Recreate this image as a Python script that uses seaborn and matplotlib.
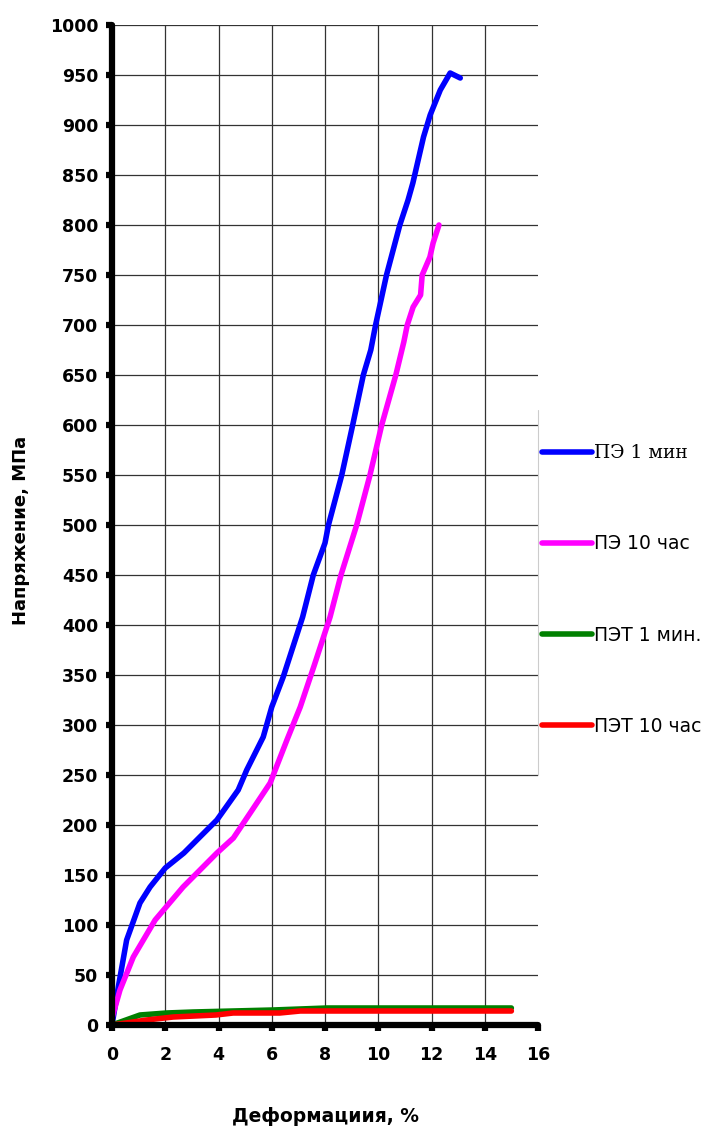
import numpy as np
import pandas as pd
import matplotlib
matplotlib.use("Agg")
import matplotlib.pyplot as plt
import seaborn as sns
from matplotlib.lines import Line2D

# Data
pe1_x = [0, 0.25, 0.55, 1.05, 1.43, 2.0, 2.7, 3.3, 3.94, 4.74, 5.06, 5.68, 6.0, 6.43, 7.16, 7.56, 8.0, 8.13, 8.63, 9.04, 9.44, 9.72, 9.9, 10.31, 10.81, 11.12, 11.3, 11.7, 11.95, 12.33, 12.7, 13.08]
pe1_y = [0, 40, 85, 122, 138, 157, 172, 188, 205, 235, 255, 288, 318, 348, 408, 450, 482, 500, 550, 600, 650, 675, 700, 750, 800, 825, 842, 888, 910, 935, 952, 947]

pe10_x = [0, 0.3, 0.8, 1.62, 2.67, 3.94, 4.56, 5.19, 5.94, 6.57, 7.07, 7.6, 8.19, 8.6, 9.19, 9.69, 10.13, 10.66, 10.96, 11.09, 11.31, 11.59, 11.65, 11.94, 12.06, 12.28]
pe10_y = [7, 35, 68, 105, 138, 172, 187, 212, 242, 285, 318, 360, 408, 450, 500, 550, 600, 650, 683, 700, 718, 730, 750, 768, 782, 800]

pet1_x = [0, 1.05, 2.05, 3.05, 6.05, 8.08, 10, 12, 15]
pet1_y = [0, 10, 12, 13, 15, 17, 17, 17, 17]

pet10_x = [0, 1.3, 2.3, 3.9, 4.55, 6.3, 7.07, 10, 12, 15]
pet10_y = [0, 5, 8, 10, 12, 12, 14, 14, 14, 14]

labels = ["ПЭ 1 мин", "ПЭ 10 час", "ПЭТ 1 мин.", "ПЭТ 10 час"]
colors = ["#0000FF", "#FF00FF", "#008000", "#FF0000"]

x_ticks = list(range(0, 17, 2))
y_ticks = list(range(0, 1001, 50))

frames = []
for lab, xs, ys in zip(labels, [pe1_x, pe10_x, pet1_x, pet10_x], [pe1_y, pe10_y, pet1_y, pet10_y]):
    frames.append(pd.DataFrame({"x": xs, "y": ys, "series": lab}))
df = pd.concat(frames, ignore_index=True)

sns.set_style("white")
plt.rcParams["font.family"] = ["DejaVu Sans"]
plt.rcParams["text.color"] = "black"
plt.rcParams["xtick.color"] = "black"
plt.rcParams["ytick.color"] = "black"

fig = plt.figure(figsize=(7.28, 11.28), dpi=100)
ax = fig.add_axes([112/728, 1 - 1025/1128, (538-112)/728, (1025-25)/1128])

sns.lineplot(data=df, x="x", y="y", hue="series", hue_order=labels,
             palette=colors, sort=False, estimator=None, units="series",
             linewidth=4, ax=ax, legend=False)
for ln in ax.lines:
    ln.set_solid_capstyle("round")
    ln.set_solid_joinstyle("round")

ax.set_xlim(0, 16)
ax.set_ylim(0, 1000)
ax.set_xticks(x_ticks)
ax.set_yticks(y_ticks)
ax.set_xticklabels([str(v) for v in x_ticks], fontsize=12.5, fontweight="bold")
ax.set_yticklabels([str(v) for v in y_ticks], fontsize=12.5, fontweight="bold")
ax.grid(True, color="#333333", linewidth=0.9)
ax.set_axisbelow(True)
ax.xaxis.get_gridlines()[-1].set_visible(False)
for s in ["top", "right"]:
    ax.spines[s].set_visible(False)
for s in ["left", "bottom"]:
    ax.spines[s].set_linewidth(4.5)
    ax.spines[s].set_color("black")
    ax.spines[s].set_capstyle("round")
ax.tick_params(axis="both", direction="out", length=4, width=4.5, color="black",
               bottom=True, left=True, top=False, right=False)
ax.tick_params(axis="x", pad=11)
ax.tick_params(axis="y", pad=6)

ax.set_xlabel("")
ax.set_ylabel("")
fig.text(326/728, 1 - 1117/1128, "Деформациия, %", ha="center", va="center",
         fontsize=13.5, fontweight="bold")
fig.text(21/728, 1 - 530/1128, "Напряжение, МПа", ha="center", va="center",
         rotation=90, fontsize=13, fontweight="bold")

# Legend
handles = [Line2D([0], [0], color=c, lw=4, solid_capstyle="round") for c in colors]
leg = fig.legend(handles, labels, loc="center left",
                 bbox_to_anchor=(542/728, 1 - 590/1128), frameon=False,
                 fontsize=13.5, labelspacing=3.85, handlelength=2.65,
                 handletextpad=0.15, borderaxespad=0, borderpad=0)
leg.get_texts()[0].set_fontfamily(["DejaVu Serif"])
fig.add_artist(Line2D([538/728, 538/728], [1 - 410/1128, 1 - 775/1128],
                      color="#cccccc", lw=0.8, transform=fig.transFigure))

fig.savefig("out.png", dpi=100)
